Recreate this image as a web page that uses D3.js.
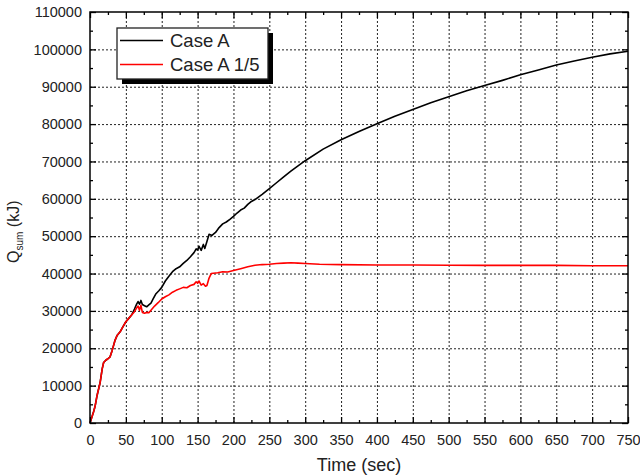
<!DOCTYPE html>
<html>
<head>
<meta charset="utf-8">
<script src="https://cdn.jsdelivr.net/npm/d3@7"></script>
<style>
  body { margin: 0; background: #fff; }
  text { font-family: "Liberation Sans", Arial, sans-serif; fill: #222; }
</style>
</head>
<body>
<div id="chart"></div>
<script>
// series (time in sec, Q_sum in kJ)
var caseATime = [0, 5, 7, 10, 14, 17, 19, 22, 25, 28, 31, 35, 38, 42, 46, 50, 54, 58, 62, 65, 67, 69, 71, 73,
    76, 79, 82, 85, 88, 92, 96, 100, 105, 110, 115, 120, 125, 130, 135, 140, 145, 148, 150, 152, 155, 158,
    160, 163, 166, 170, 175, 180, 185, 190, 195, 200, 205, 210, 215, 220, 225, 230, 240, 250, 260, 270, 280,
    290, 300, 325, 350, 375, 400, 425, 450, 475, 500, 525, 550, 575, 600, 625, 650, 675, 700, 725, 750];
var caseAQ = [0, 3000, 4400, 7500, 10700, 14500, 16200, 16800, 17200, 17700, 19500, 22200, 23500, 24400, 25800,
    27100, 28000, 28900, 30500, 31800, 32500, 31800, 32800, 31700,
    31400, 31100, 31600, 32100, 33200, 34600, 35400, 36300, 38000, 39300, 40500, 41300, 41800, 42700, 43500,
    44500, 45600, 46600, 46300, 47300, 46200, 47800,
    46700, 48600, 50500, 50200, 51000, 52300, 53300, 53800, 54500, 55300, 56200, 57000, 57500, 58500, 59300,
    59800, 61200, 62700, 64300, 65900, 67400,
    68800, 70200, 73300, 75800, 78000, 80100, 82100, 83900, 85700, 87300, 88900, 90300, 91700, 93200, 94500,
    95800, 96900, 97900, 98800, 99500];

var caseA5Time = [0, 5, 7, 10, 14, 17, 19, 22, 25, 28, 31, 35, 38, 42, 46, 50, 54, 58, 62, 65, 67, 69, 71, 73,
    76, 79, 82, 85, 90, 95, 100, 105, 110, 115, 120, 125, 130, 135, 140, 145, 148, 150, 152, 155, 158, 161,
    163, 166, 169, 172, 178, 185, 192, 200, 210, 220, 230, 240, 250, 260, 270, 280, 290, 300, 320, 350, 400,
    450, 500, 550, 600, 650, 700, 750];
var caseA5Q = [0, 3000, 4400, 7500, 10700, 14500, 16200, 16800, 17200, 17700, 19500, 22200, 23500, 24400, 25800,
    27100, 28000, 28900, 29800, 30800, 31300, 30200, 31500, 29600,
    29400, 29600, 29500, 30200, 31300, 32200, 33200, 33800, 34300, 35000, 35500, 35900, 36300, 36200, 36800,
    37100, 37800, 37400, 38000, 36900, 37300, 36600,
    36800, 38800, 40000, 40100, 40200, 40500, 40400, 40800, 41300, 41800, 42200, 42400, 42500, 42700, 42800,
    42900, 42800, 42700, 42500, 42400, 42300,
    42300, 42200, 42200, 42200, 42200, 42100, 42100];

var seriesNames = ["Case A", "Case A 1/5"];
var seriesColors = ["#000000", "#ff0000"];

var xTicks = d3.range(0, 751, 50);
var yTicks = d3.range(0, 110001, 10000);

var W = 640, H = 476;
var margin = { top: 12, right: 12, bottom: 53, left: 90 };
var width = W - margin.left - margin.right;
var height = H - margin.top - margin.bottom;

var svg = d3.select("#chart").append("svg")
    .attr("width", W)
    .attr("height", H);

svg.append("rect").attr("width", W).attr("height", H).attr("fill", "#fff");

var g = svg.append("g")
    .attr("transform", "translate(" + margin.left + "," + margin.top + ")");

var x = d3.scaleLinear().domain([0, 750]).range([0, width]);
var y = d3.scaleLinear().domain([0, 110000]).range([height, 0]);

// dotted grid
g.append("g")
    .attr("class", "grid")
    .attr("transform", "translate(0," + height + ")")
    .call(d3.axisBottom(x).tickValues(xTicks.slice(1, -1)).tickSize(-height).tickFormat(""))
    .call(function(s) { s.select(".domain").remove(); });
g.append("g")
    .attr("class", "grid")
    .call(d3.axisLeft(y).tickValues(yTicks.slice(1, -1)).tickSize(-width).tickFormat(""))
    .call(function(s) { s.select(".domain").remove(); });
g.selectAll(".grid line")
    .attr("stroke", "#222")
    .attr("stroke-width", 1)
    .attr("stroke-dasharray", "2,2");

// lines
var line = d3.line()
    .x(function(d) { return x(d[0]); })
    .y(function(d) { return y(d[1]); });

var seriesData = [
    d3.zip(caseATime, caseAQ),
    d3.zip(caseA5Time, caseA5Q)
];

g.selectAll(".series")
    .data(seriesData)
    .enter().append("path")
    .attr("class", "series")
    .attr("d", line)
    .attr("fill", "none")
    .attr("stroke", function(d, i) { return seriesColors[i]; })
    .attr("stroke-width", 1.6)
    .attr("stroke-linejoin", "round");

// axes with inward ticks
var minorX = d3.range(25, 750, 50);
var minorY = d3.range(5000, 110000, 10000);
var fmt = d3.format("d");

function styleAxis(s) {
    s.select(".domain").remove();
    s.selectAll("line").attr("stroke", "#000").attr("stroke-width", 1.3);
    s.selectAll("text").style("font-size", "14.5px").attr("fill", "#222");
}

g.append("g")
    .attr("transform", "translate(0," + height + ")")
    .call(d3.axisBottom(x).tickValues(xTicks).tickFormat(fmt).tickSizeInner(-6).tickSizeOuter(0).tickPadding(12))
    .call(styleAxis);
g.append("g")
    .attr("transform", "translate(0," + height + ")")
    .call(d3.axisBottom(x).tickValues(minorX).tickSize(-3).tickFormat(""))
    .call(styleAxis);
g.append("g")
    .call(d3.axisTop(x).tickValues(xTicks).tickSize(-6).tickFormat(""))
    .call(styleAxis);
g.append("g")
    .call(d3.axisTop(x).tickValues(minorX).tickSize(-3).tickFormat(""))
    .call(styleAxis);

g.append("g")
    .call(d3.axisLeft(y).tickValues(yTicks).tickFormat(fmt).tickSizeInner(-6).tickSizeOuter(0).tickPadding(8))
    .call(styleAxis);
g.append("g")
    .call(d3.axisLeft(y).tickValues(minorY).tickSize(-3).tickFormat(""))
    .call(styleAxis);
g.append("g")
    .attr("transform", "translate(" + width + ",0)")
    .call(d3.axisRight(y).tickValues(yTicks).tickSize(-6).tickFormat(""))
    .call(styleAxis);
g.append("g")
    .attr("transform", "translate(" + width + ",0)")
    .call(d3.axisRight(y).tickValues(minorY).tickSize(-3).tickFormat(""))
    .call(styleAxis);

// frame
g.append("rect")
    .attr("width", width)
    .attr("height", height)
    .attr("fill", "none")
    .attr("stroke", "#000")
    .attr("stroke-width", 1.5);

// axis titles
svg.append("text")
    .attr("x", margin.left + width / 2)
    .attr("y", 471)
    .attr("text-anchor", "middle")
    .style("font-size", "18px")
    .text("Time (sec)");

var yTitle = svg.append("text")
    .attr("transform", "translate(19,263) rotate(-90)")
    .attr("text-anchor", "start")
    .style("font-size", "16px");
yTitle.append("tspan").text("Q");
yTitle.append("tspan").attr("dy", 4).style("font-size", "10px").text("sum");
yTitle.append("tspan").attr("dy", -4).text(" (kJ)");

// legend
var legend = svg.append("g").attr("transform", "translate(117,28)");
legend.append("rect")
    .attr("x", 5).attr("y", 5)
    .attr("width", 151).attr("height", 51)
    .attr("fill", "#000");
legend.append("rect")
    .attr("width", 151).attr("height", 51)
    .attr("fill", "#fff")
    .attr("stroke", "#222")
    .attr("stroke-width", 1.3);

var items = legend.selectAll(".item")
    .data(seriesNames)
    .enter().append("g")
    .attr("class", "item")
    .attr("transform", function(d, i) { return "translate(0," + (12.5 + i * 24) + ")"; });
items.append("line")
    .attr("x1", 3).attr("x2", 46)
    .attr("stroke", function(d, i) { return seriesColors[i]; })
    .attr("stroke-width", 1.6);
items.append("text")
    .attr("x", 53)
    .attr("y", 6.5)
    .style("font-size", "18.5px")
    .text(function(d) { return d; });
</script>
</body>
</html>
